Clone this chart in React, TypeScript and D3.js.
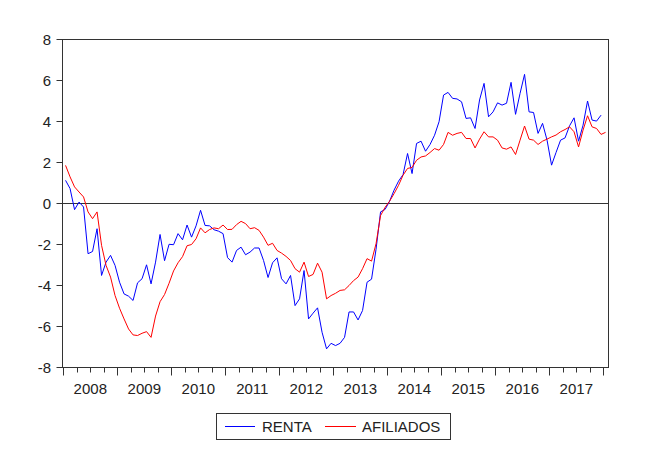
import React from "react";
import * as d3 from "d3";

const years = ["2008", "2009", "2010", "2011", "2012", "2013", "2014", "2015", "2016", "2017"];
const yTicks = [8, 6, 4, 2, 0, -2, -4, -6, -8];

// Monthly, starting 2008M01
const renta = [
  1.12, 0.72, -0.31, 0.06, -0.18, -2.46, -2.35, -1.24, -3.52, -2.87, -2.54, -3.03,
  -3.85, -4.42, -4.53, -4.74, -3.88, -3.68, -3.0, -3.93, -2.87, -1.52, -2.8, -2.0,
  -2.02, -1.48, -1.78, -1.06, -1.65, -1.1, -0.34, -1.08, -1.1, -1.29, -1.36, -1.48,
  -2.65, -2.87, -2.3, -2.14, -2.51, -2.38, -2.18, -2.18, -2.79, -3.62, -2.9, -2.66,
  -3.68, -3.93, -3.52, -4.99, -4.66, -3.28, -5.64, -5.36, -5.1, -6.29, -7.1, -6.83,
  -6.94, -6.83, -6.54, -5.3, -5.3, -5.69, -5.23, -3.85, -3.7, -2.24, -0.42, -0.3,
  0.1, 0.64, 1.08, 1.4, 2.43, 1.45, 2.92, 3.03, 2.54, 2.87, 3.32, 3.98,
  5.28, 5.41, 5.12, 5.09, 4.95, 4.14, 4.17, 3.65, 5.04, 5.85, 4.22, 4.46,
  4.9, 4.79, 4.88, 5.9, 4.34, 5.36, 6.29, 4.46, 4.43, 3.41, 3.9, 3.08,
  1.86, 2.48, 3.08, 3.19, 3.78, 4.17, 3.03, 3.81, 4.99, 4.06, 4.01, 4.3,
];

const afiliados = [
  1.85, 1.29, 0.8, 0.55, 0.31, -0.42, -0.75, -0.42, -2.05, -3.03, -3.6, -4.5,
  -5.12, -5.64, -6.13, -6.42, -6.45, -6.34, -6.26, -6.54, -5.5, -4.8, -4.45, -3.9,
  -3.3, -2.9, -2.6, -2.07, -2.01, -1.73, -1.2, -1.44, -1.28, -1.2, -1.24, -1.06,
  -1.28, -1.27, -1.04, -0.88, -0.99, -1.24, -1.19, -1.32, -1.65, -2.05, -1.95, -2.3,
  -2.43, -2.59, -2.79, -3.19, -3.36, -2.87, -3.57, -3.47, -2.92, -3.36, -4.66, -4.5,
  -4.39, -4.25, -4.22, -4.01, -3.77, -3.6, -3.19, -2.7, -2.82, -1.97, -0.6, -0.2,
  0.1, 0.47, 0.88, 1.37, 1.7, 1.75, 2.1, 2.26, 2.31, 2.48, 2.67, 2.59,
  2.87, 3.46, 3.32, 3.41, 3.46, 3.16, 3.16, 2.7, 3.13, 3.49, 3.24, 3.24,
  3.08, 2.7, 2.64, 2.75, 2.38, 3.08, 3.77, 3.13, 3.08, 2.87, 3.03, 3.13,
  3.24, 3.33, 3.49, 3.6, 3.73, 3.49, 2.75, 3.57, 4.27, 3.73, 3.65, 3.36,
  3.46,
];

const seriesNames = ["RENTA", "AFILIADOS"];
const seriesColors = ["#0000ff", "#ff0000"];

export default function App() {
  const W = 659, H = 474;
  const L = 62.5, R = 608.5, T = 39.5, B = 367.5;
  const nObs = 121;
  const x = d3.scaleLinear().domain([-0.5, nObs - 0.5]).range([63.3, 607.8]);
  const y = d3.scaleLinear().domain([-8, 8]).range([367.3, 39.3]);
  const line = d3.line<number>().x((_, i) => x(i)).y((d) => y(d));
  const font = "'Liberation Sans', Arial, sans-serif";

  const quarterTicks: { pos: number; major: boolean }[] = [];
  for (let q = 0; q <= 40; q++) {
    quarterTicks.push({ pos: q * 3 - 0.5, major: q % 4 === 0 });
  }

  return (
    <svg width={W} height={H} style={{ position: "absolute", left: 0, top: 0, background: "#fff" }}>
      <rect x={0} y={0} width={W} height={H} fill="#fff" />
      {/* frame */}
      <rect x={L} y={T} width={R - L} height={B - T} fill="none" stroke="#333" strokeWidth={1} />
      {/* zero line */}
      <line x1={L} x2={R} y1={Math.round(y(0)) + 0.5} y2={Math.round(y(0)) + 0.5} stroke="#333" strokeWidth={1} />
      {/* y ticks */}
      {yTicks.map((t) => (
        <g key={t}>
          <line x1={L - 6} x2={L} y1={Math.round(y(t)) + 0.5} y2={Math.round(y(t)) + 0.5} stroke="#333" />
          <text x={51} y={y(t) + 5.5} textAnchor="end" fontFamily={font} fontSize={15} fill="#222">
            {t}
          </text>
        </g>
      ))}
      {/* x ticks */}
      {quarterTicks.map((t, i) => (
        <line
          key={i}
          x1={Math.round(x(t.pos)) + 0.5}
          x2={Math.round(x(t.pos)) + 0.5}
          y1={B}
          y2={B + (t.major ? 8 : 5)}
          stroke="#333"
        />
      ))}
      {years.map((yr, k) => (
        <text key={yr} x={x(k * 12 + 5.5)} y={393.5} textAnchor="middle" fontFamily={font} fontSize={15} fill="#222">
          {yr}
        </text>
      ))}
      {/* series */}
      <path d={line(renta) || ""} fill="none" stroke={seriesColors[0]} strokeWidth={1} />
      <path d={line(afiliados) || ""} fill="none" stroke={seriesColors[1]} strokeWidth={1} />
      {/* legend */}
      <rect x={216.5} y={413.5} width={234} height={26} fill="#fff" stroke="#333" strokeWidth={1} />
      <line x1={225} x2={255} y1={426.5} y2={426.5} stroke={seriesColors[0]} />
      <text x={262} y={432} fontFamily={font} fontSize={15} fill="#222">{seriesNames[0]}</text>
      <line x1={325} x2={356} y1={426.5} y2={426.5} stroke={seriesColors[1]} />
      <text x={362} y={432} fontFamily={font} fontSize={15} fill="#222">{seriesNames[1]}</text>
    </svg>
  );
}
